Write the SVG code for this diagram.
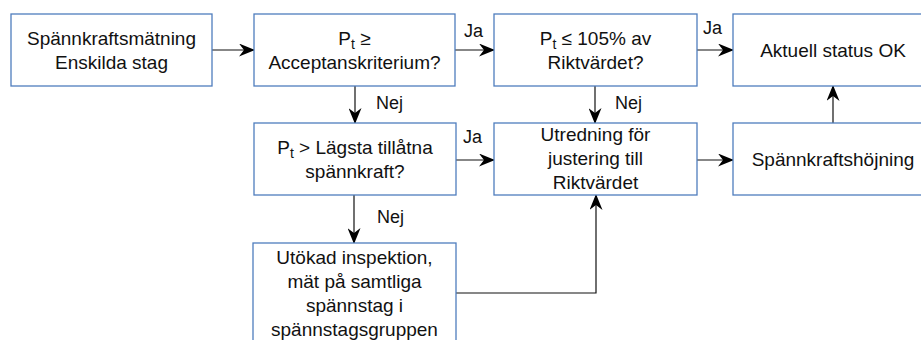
<svg xmlns="http://www.w3.org/2000/svg" width="921" height="340" viewBox="0 0 921 340">
<style>
.box{fill:#ffffff;stroke:#4f7dbd;stroke-width:1.3}
text{font-family:"Liberation Sans",Arial,sans-serif;font-size:19px;fill:#111}
.c{text-anchor:middle}
.lbl{font-size:18px}
.ln{fill:none;stroke:#111;stroke-width:1.2}
</style>
<defs>
<marker id="ah" viewBox="0 0 16 13" refX="15" refY="6.5" markerWidth="16" markerHeight="13" markerUnits="userSpaceOnUse" orient="auto">
<path d="M0,0 L16,6.5 L0,13 L5,6.5 Z" fill="#000"/>
</marker>
</defs>
<rect width="921" height="340" fill="#fff"/>
<g id="connectors">
<line class="ln" x1="212" y1="50" x2="254" y2="50" marker-end="url(#ah)"/>
<line class="ln" x1="455" y1="50" x2="494" y2="50" marker-end="url(#ah)"/>
<line class="ln" x1="697" y1="50" x2="733" y2="50" marker-end="url(#ah)"/>
<line class="ln" x1="355" y1="86" x2="355" y2="123" marker-end="url(#ah)"/>
<line class="ln" x1="595" y1="86" x2="595" y2="123" marker-end="url(#ah)"/>
<line class="ln" x1="456" y1="160" x2="494" y2="160" marker-end="url(#ah)"/>
<line class="ln" x1="697" y1="160" x2="733" y2="160" marker-end="url(#ah)"/>
<line class="ln" x1="833" y1="123" x2="833" y2="86" marker-end="url(#ah)"/>
<line class="ln" x1="354" y1="195" x2="354" y2="243" marker-end="url(#ah)"/>
<polyline class="ln" points="456,293 596,293 596,195" marker-end="url(#ah)"/>
<text class="lbl" x="464" y="37">Ja</text>
<text class="lbl" x="703" y="34">Ja</text>
<text class="lbl" x="463" y="143">Ja</text>
<text class="lbl" x="376" y="109">Nej</text>
<text class="lbl" x="615" y="109">Nej</text>
<text class="lbl" x="377" y="223">Nej</text>
</g>
<g id="n1">
<rect class="box" x="11" y="14" width="201" height="72"/>
<text class="c" x="111.5" y="45">Spännkraftsmätning</text>
<text class="c" x="111.5" y="69">Enskilda stag</text>
</g>
<g id="n2">
<rect class="box" x="254" y="14" width="201" height="72"/>
<text class="c" x="354.5" y="45">P<tspan font-size="14" dy="4">t</tspan><tspan dy="-4"> ≥</tspan></text>
<text class="c" x="354.5" y="69">Acceptanskriterium?</text>
</g>
<g id="n3">
<rect class="box" x="494" y="14" width="203" height="72"/>
<text class="c" x="595.5" y="45">P<tspan font-size="14" dy="4">t</tspan><tspan dy="-4"> ≤ 105% av</tspan></text>
<text class="c" x="595.5" y="69">Riktvärdet?</text>
</g>
<g id="n4">
<rect class="box" x="733" y="14" width="200" height="72"/>
<text class="c" x="833" y="57">Aktuell status OK</text>
</g>
<g id="n5">
<rect class="box" x="254" y="123" width="202" height="72"/>
<text class="c" x="355" y="154">P<tspan font-size="14" dy="4">t</tspan><tspan dy="-4"> &gt; Lägsta tillåtna</tspan></text>
<text class="c" x="355" y="178">spännkraft?</text>
</g>
<g id="n6">
<rect class="box" x="494" y="123" width="203" height="72"/>
<text class="c" x="595.5" y="141">Utredning för</text>
<text class="c" x="595.5" y="165">justering till</text>
<text class="c" x="595.5" y="189">Riktvärdet</text>
</g>
<g id="n7">
<rect class="box" x="733" y="123" width="200" height="72"/>
<text class="c" x="833" y="166">Spännkraftshöjning</text>
</g>
<g id="n8">
<rect class="box" x="253" y="243" width="203" height="120"/>
<text class="c" x="354.5" y="264">Utökad inspektion,</text>
<text class="c" x="354.5" y="288">mät på samtliga</text>
<text class="c" x="354.5" y="312">spännstag i</text>
<text class="c" x="354.5" y="336">spännstagsgruppen</text>
</g>
</svg>
